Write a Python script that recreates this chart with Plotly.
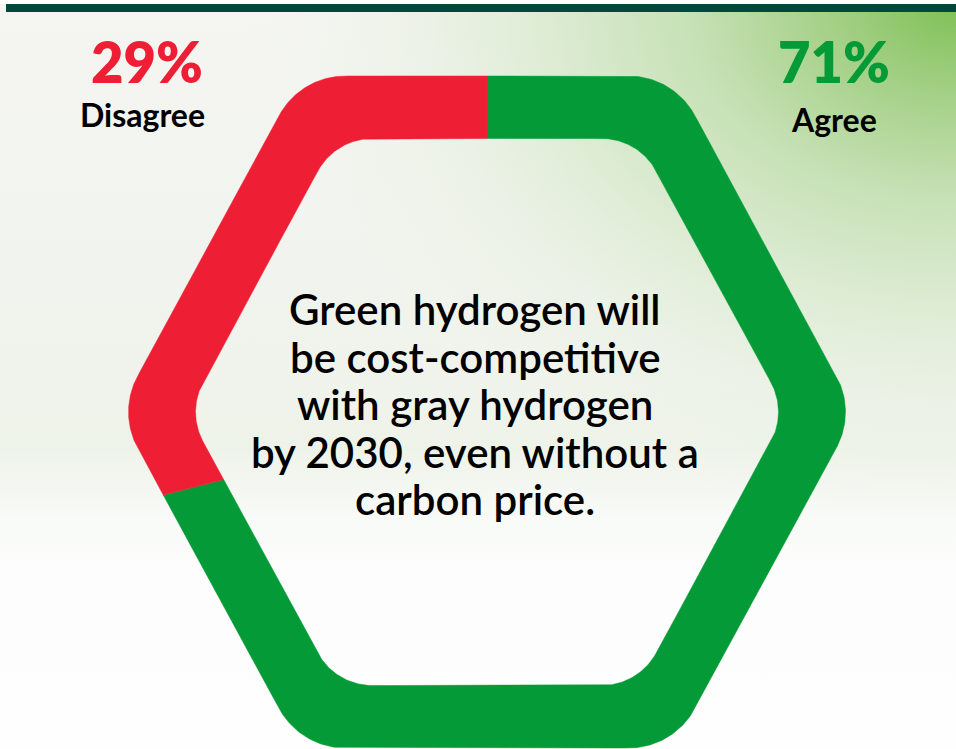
import numpy as np
import plotly.graph_objects as go

# ---------------- data ----------------
labels = ["Agree", "Disagree"]
values = [71, 29]
colors = ["#049a37", "#ee1f34"]
statement_lines = [
    "Green hydrogen will",
    "be cost-competitive",
    "with gray hydrogen",
    "by 2030, even without a",
    "carbon price.",
]

# ---------------- geometry (pixel space) ----------------
W, H = 956, 749
CX, CY = 487, 412


def rounded_hexagon(half_h, extent, angle_deg, radius, n_arc=60, n_edge=200):
    a = np.radians(angle_deg)
    inset = radius / np.sin(a) - radius
    A = extent + inset
    run = half_h / np.tan(a)
    verts = np.array([
        (A, 0.0), (A - run, half_h), (-(A - run), half_h),
        (-A, 0.0), (-(A - run), -half_h), (A - run, -half_h)])
    n = len(verts)
    arcs = []
    for i in range(n):
        v = verts[i]
        p = verts[i - 1]
        q = verts[(i + 1) % n]
        d1 = (p - v) / np.linalg.norm(p - v)
        d2 = (q - v) / np.linalg.norm(q - v)
        phi = np.arccos(np.clip(np.dot(d1, d2), -1, 1)) / 2
        t = radius / np.tan(phi)
        t1 = v + d1 * t
        t2 = v + d2 * t
        bis = (d1 + d2) / np.linalg.norm(d1 + d2)
        c = v + bis * radius / np.sin(phi)
        a1 = np.arctan2(*(t1 - c)[::-1])
        a2 = np.arctan2(*(t2 - c)[::-1])
        d = (a2 - a1 + np.pi) % (2 * np.pi) - np.pi
        s = np.linspace(0, 1, n_arc)
        ang = a1 + d * s
        arcs.append(np.column_stack([c[0] + radius * np.cos(ang), c[1] + radius * np.sin(ang)]))
    pts = []
    for i in range(n):
        pts.append(arcs[i])
        e0 = arcs[i][-1]
        e1 = arcs[(i + 1) % n][0]
        s = np.linspace(0, 1, n_edge)[1:-1]
        pts.append(e0 + np.outer(s, e1 - e0))
    return np.vstack(pts)


outer = rounded_hexagon(336, 358.5, 61.5, 75)
inner = rounded_hexagon(273.5, 291.5, 61.5, 62)


def boundary_at(poly, thetas):
    th = np.arctan2(poly[:, 1], poly[:, 0])
    x = np.interp(thetas, th, poly[:, 0], period=2 * np.pi)
    y = np.interp(thetas, th, poly[:, 1], period=2 * np.pi)
    return x, y


fig = go.Figure()

# ---------------- background ----------------
fig.add_trace(go.Scatter(
    x=[0, W, W, 0, 0], y=[0, 0, H, H, 0], mode="lines", fill="toself",
    line=dict(width=0), hoverinfo="skip", showlegend=False,
    fillgradient=dict(type="vertical", start=0, stop=H,
                      colorscale=[[0, "#f5f5f2"], [0.35, "#f1f4ee"], [0.6, "#eef3ea"],
                                  [0.7, "#f9fbf8"], [0.78, "#fdfdfd"], [1, "#fefefe"]])))

ga = np.linspace(0, 2 * np.pi, 240)
GRX, GRY = 700, 520
fig.add_trace(go.Scatter(
    x=W + GRX * np.cos(ga), y=0 + GRY * np.sin(ga), mode="lines", fill="toself",
    line=dict(width=0), hoverinfo="skip", showlegend=False,
    fillgradient=dict(type="radial",
                      colorscale=[[0, "rgba(125,192,84,1)"], [0.18, "rgba(164,208,134,1)"],
                                  [0.38, "rgba(199,225,182,1)"], [0.58, "rgba(220,235,210,1)"],
                                  [0.78, "rgba(234,241,228,0.7)"], [1, "rgba(240,244,236,0)"]])))

# ---------------- hexagon donut ----------------
total = sum(values)
start = 90.0
for lab, val, col in zip(labels, values, colors):
    end = start - val / total * 360.0
    th = np.radians(np.linspace(start, end, 900))
    ox, oy = boundary_at(outer, th)
    ix, iy = boundary_at(inner, th[::-1])
    xs = np.concatenate([ox, ix, ox[:1]])
    ys = np.concatenate([oy, iy, oy[:1]])
    fig.add_trace(go.Scatter(
        x=CX + xs, y=CY - ys, mode="lines", fill="toself", fillcolor=col,
        line=dict(width=0.5, color=col), name=lab, hoverinfo="name", showlegend=False))
    start = end

# ---------------- text ----------------
ann = []
label_pos = {"Agree": (834, 61, 119), "Disagree": (147, 61, 114)}
for lab, val, col in zip(labels, values, colors):
    x, yp, yl = label_pos[lab]
    ann.append(dict(x=x, y=yp, text=f"{val}%", showarrow=False, xanchor="center", yanchor="middle",
                    font=dict(family="Lato", size=56, color=col, weight=800)))
    ann.append(dict(x=x - (5 if lab == "Disagree" else 0), y=yl, text=lab, showarrow=False,
                    xanchor="center", yanchor="middle",
                    font=dict(family="Lato", size=32, color="#000000", weight=700)))

for i, line in enumerate(statement_lines):
    ann.append(dict(x=475, y=309 + i * 47.6, text=line, showarrow=False, xanchor="center",
                    yanchor="middle", font=dict(family="Lato", size=42, color="#000000", weight=600)))

fig.update_layout(
    width=W, height=H, margin=dict(l=0, r=0, t=0, b=0),
    paper_bgcolor="#ffffff", plot_bgcolor="#ffffff",
    xaxis=dict(range=[0, W], visible=False, fixedrange=True),
    yaxis=dict(range=[H, 0], visible=False, fixedrange=True),
    annotations=ann,
    shapes=[
        dict(type="rect", xref="x", yref="y", x0=0, x1=W, y0=0, y1=4,
             fillcolor="#ffffff", line=dict(width=0), layer="above"),
        dict(type="rect", xref="x", yref="y", x0=6, x1=W, y0=4, y1=12,
             fillcolor="#02473c", line=dict(width=0), layer="above"),
    ],
)

fig.write_html("out.html", config=dict(displayModeBar=False, staticPlot=True))
